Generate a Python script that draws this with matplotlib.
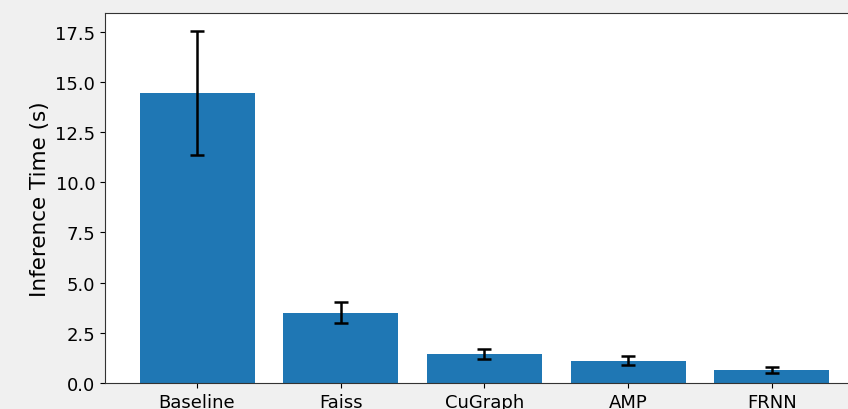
import matplotlib
matplotlib.use("Agg")
import matplotlib.pyplot as plt

methods = ["Baseline", "Faiss", "CuGraph", "AMP", "FRNN"]
times = [14.45, 3.50, 1.46, 1.12, 0.64]
errors = [3.10, 0.53, 0.24, 0.20, 0.14]

fig = plt.figure(figsize=(8.48, 4.10), dpi=100)
fig.patch.set_facecolor("#f0f0f0")
ax = fig.add_axes([105 / 848, 1 - 384 / 410, (864 - 105) / 848, (384 - 14) / 410])
ax.set_facecolor("white")
ax.bar(methods, times, yerr=errors, capsize=5, color="#1f77b4",
       error_kw=dict(elinewidth=1.8, capthick=1.8, ecolor="black"))
ax.set_ylabel("Inference Time (s)", fontsize=15.5)
ax.tick_params(axis="both", labelsize=13)
for s in ax.spines.values():
    s.set_color("#333333")
fig.savefig("out.png", dpi=100, facecolor=fig.get_facecolor())
